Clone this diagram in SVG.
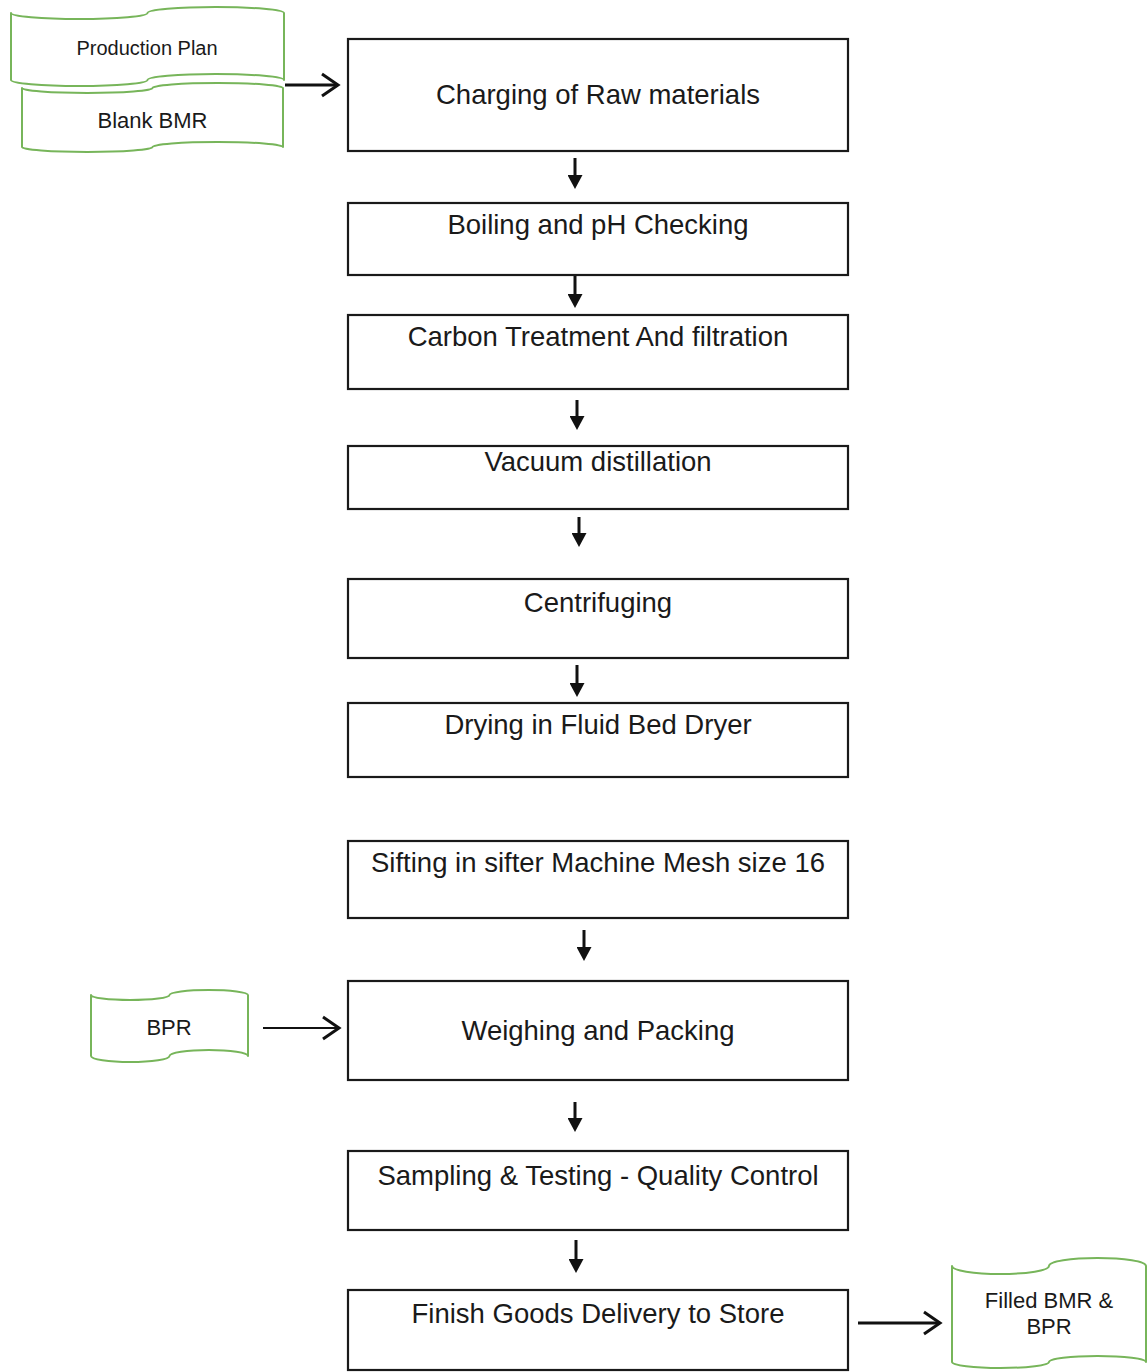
<svg xmlns="http://www.w3.org/2000/svg" width="1148" height="1372" viewBox="0 0 1148 1372">
<style>
  .box { fill: #ffffff; stroke: #1a1a1a; stroke-width: 2.2; }
  .doc { fill: #ffffff; stroke: #77b55a; stroke-width: 2; stroke-linejoin: round; }
  .t { font-family: "Liberation Sans", Arial, sans-serif; font-size: 27.5px; fill: #1a1a1a; text-anchor: middle; }
  .td { font-family: "Liberation Sans", Arial, sans-serif; font-size: 22px; fill: #1a1a1a; text-anchor: middle; }
  .down { stroke: #111; stroke-width: 3; fill: none; marker-end: url(#tri); }
  .side { stroke: #111; stroke-width: 3; fill: none; marker-end: url(#chev); }
</style>
<defs>
  <marker id="tri" markerUnits="userSpaceOnUse" viewBox="0 0 14 15" refX="0" refY="7.5" markerWidth="14" markerHeight="15" orient="auto">
    <path d="M0,0 L14,7.5 L0,15 Z" fill="#111"/>
  </marker>
  <marker id="chev" markerUnits="userSpaceOnUse" viewBox="-20 -14 24 28" refX="0" refY="0" markerWidth="24" markerHeight="28" orient="auto" overflow="visible">
    <path d="M-16,-11 L0,0 L-16,11" fill="none" stroke="#111" stroke-width="3"/>
  </marker>
</defs>
<rect width="1148" height="1372" fill="#ffffff"/>

<g id="doc-production-plan">
  <path class="doc" d="M11,13 A68.25,6 0 0 0 147.5,13 A68.25,6 0 0 1 284,13 L284,80 A68.25,6 0 0 0 147.5,80 A68.25,6 0 0 1 11,80 Z"/>
  <text class="td" x="147" y="55" style="font-size:20px">Production Plan</text>
</g>
<g id="doc-blank-bmr">
  <path class="doc" d="M22,88 A65.25,5 0 0 0 152.5,88 A65.25,5 0 0 1 283,88 L283,147 A65.25,5 0 0 0 152.5,147 A65.25,5 0 0 1 22,147 Z"/>
  <text class="td" x="152.5" y="128">Blank BMR</text>
</g>
<g id="doc-bpr">
  <path class="doc" d="M91,995 A39.25,5 0 0 0 169.5,995 A39.25,5 0 0 1 248,995 L248,1056 A39.25,6 0 0 0 169.5,1056 A39.25,6 0 0 1 91,1056 Z"/>
  <text class="td" x="169" y="1035">BPR</text>
</g>
<g id="doc-filled">
  <path class="doc" d="M952,1266 A48.5,8 0 0 0 1049,1266 A48.5,8 0 0 1 1146,1266 L1146,1362 A48.5,6 0 0 0 1049,1362 A48.5,6 0 0 1 952,1362 Z"/>
  <text class="td" x="1049" y="1308">Filled BMR &amp;</text>
  <text class="td" x="1049" y="1334">BPR</text>
</g>

<g id="n1"><rect class="box" x="348" y="39" width="500" height="112"/><text class="t" x="598" y="104">Charging of Raw materials</text></g>
<g id="n2"><rect class="box" x="348" y="203" width="500" height="72"/><text class="t" x="598" y="234">Boiling and pH Checking</text></g>
<g id="n3"><rect class="box" x="348" y="315" width="500" height="74"/><text class="t" x="598" y="346">Carbon Treatment And filtration</text></g>
<g id="n4"><rect class="box" x="348" y="446" width="500" height="63"/><text class="t" x="598" y="471">Vacuum distillation</text></g>
<g id="n5"><rect class="box" x="348" y="579" width="500" height="79"/><text class="t" x="598" y="612">Centrifuging</text></g>
<g id="n6"><rect class="box" x="348" y="703" width="500" height="74"/><text class="t" x="598" y="734">Drying in Fluid Bed Dryer</text></g>
<g id="n7"><rect class="box" x="348" y="841" width="500" height="77"/><text class="t" x="598" y="872">Sifting in sifter Machine Mesh size 16</text></g>
<g id="n8"><rect class="box" x="348" y="981" width="500" height="99"/><text class="t" x="598" y="1040">Weighing and Packing</text></g>
<g id="n9"><rect class="box" x="348" y="1151" width="500" height="79"/><text class="t" x="598" y="1185">Sampling &amp; Testing - Quality Control</text></g>
<g id="n10"><rect class="box" x="348" y="1290" width="500" height="80"/><text class="t" x="598" y="1323">Finish Goods Delivery to Store</text></g>

<g id="connectors">
  <line class="down" x1="575" y1="158" x2="575" y2="175"/>
  <line class="down" x1="575" y1="276" x2="575" y2="294"/>
  <line class="down" x1="577" y1="400" x2="577" y2="416"/>
  <line class="down" x1="579" y1="517" x2="579" y2="533"/>
  <line class="down" x1="577" y1="665" x2="577" y2="683"/>
  <line class="down" x1="584" y1="930" x2="584" y2="947"/>
  <line class="down" x1="575" y1="1102" x2="575" y2="1118"/>
  <line class="down" x1="576" y1="1240" x2="576" y2="1259"/>
  <line class="side" x1="285" y1="85" x2="338" y2="85"/>
  <line class="side" x1="263" y1="1028" x2="339" y2="1028" style="stroke-width:2"/>
  <line class="side" x1="858" y1="1323" x2="940" y2="1323"/>
</g>
</svg>
